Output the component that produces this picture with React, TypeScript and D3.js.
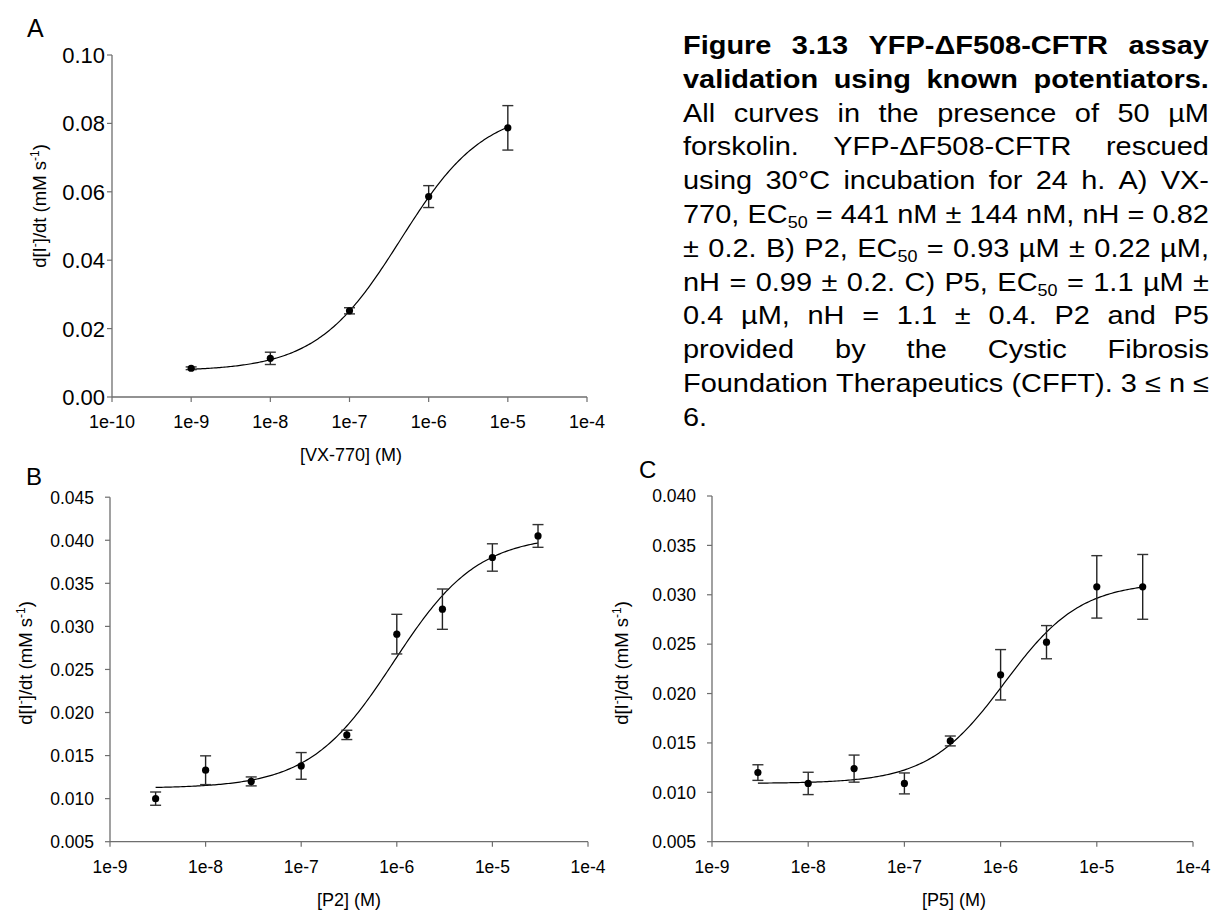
import React, { useEffect, useRef } from 'react';
import * as d3 from 'd3';

const FONT = '"Liberation Sans", Arial, Helvetica, sans-serif';
const W = 1212;
const H = 911;

// ---------- Data ----------
// Panel A: VX-770
const concA = [1e-9, 1e-8, 1e-7, 1e-6, 1e-5];
const meanA = [0.0084, 0.0113, 0.0252, 0.0586, 0.0787];
const semA = [0.0004, 0.0018, 0.0009, 0.0032, 0.0065];
const fitA = { bottom: 0.0076, top: 0.0844, ec50: 4.41e-7, nH: 0.82 };

// Panel B: P2
const concB = [3e-9, 1e-8, 3e-8, 1e-7, 3e-7, 1e-6, 3e-6, 1e-5, 3e-5];
const meanB = [0.0100, 0.0133, 0.0120, 0.0138, 0.0174, 0.0291, 0.0320, 0.0380, 0.0405];
const semB = [0.00077, 0.00167, 0.00052, 0.00155, 0.00054, 0.0023, 0.00234, 0.00159, 0.00132];
const fitB = { bottom: 0.0112, top: 0.0406, ec50: 9.3e-7, nH: 0.99 };

// Panel C: P5
const concC = [3e-9, 1e-8, 3e-8, 1e-7, 3e-7, 1e-6, 3e-6, 1e-5, 3e-5];
const meanC = [0.0120, 0.0109, 0.0124, 0.0109, 0.0152, 0.0219, 0.0252, 0.0308, 0.0308];
const semC = [0.00079, 0.00113, 0.00137, 0.00106, 0.0005, 0.00255, 0.00168, 0.00316, 0.00328];
const fitC = { bottom: 0.0109, top: 0.0313, ec50: 1.1e-6, nH: 1.1 };

// Ticks
const xTicksA = [1e-10, 1e-9, 1e-8, 1e-7, 1e-6, 1e-5, 1e-4];
const xTickLabelsA = ['1e-10', '1e-9', '1e-8', '1e-7', '1e-6', '1e-5', '1e-4'];
const xTicksBC = [1e-9, 1e-8, 1e-7, 1e-6, 1e-5, 1e-4];
const xTickLabelsBC = ['1e-9', '1e-8', '1e-7', '1e-6', '1e-5', '1e-4'];
const yTicksA = [0, 0.02, 0.04, 0.06, 0.08, 0.1];
const yTickLabelsA = ['0.00', '0.02', '0.04', '0.06', '0.08', '0.10'];
const yTicksB = [0.005, 0.01, 0.015, 0.02, 0.025, 0.03, 0.035, 0.04, 0.045];
const yTickLabelsB = ['0.005', '0.010', '0.015', '0.020', '0.025', '0.030', '0.035', '0.040', '0.045'];
const yTicksC = [0.005, 0.01, 0.015, 0.02, 0.025, 0.03, 0.035, 0.04];
const yTickLabelsC = ['0.005', '0.010', '0.015', '0.020', '0.025', '0.030', '0.035', '0.040'];

const captionLines = [
  'Figure 3.13 YFP-ΔF508-CFTR assay',
  'validation using known potentiators.',
  'All curves in the presence of 50 µM',
  'forskolin. YFP-ΔF508-CFTR rescued',
  'using 30°C incubation for 24 h. A) VX-',
  '770, EC_50 = 441 nM ± 144 nM, nH = 0.82',
  '± 0.2. B) P2, EC_50 = 0.93 µM ± 0.22 µM,',
  'nH = 0.99 ± 0.2. C) P5, EC_50 = 1.1 µM ±',
  '0.4 µM, nH = 1.1 ± 0.4. P2 and P5',
  'provided by the Cystic Fibrosis',
  'Foundation Therapeutics (CFFT). 3 ≤ n ≤',
  '6.',
];
const boldLineCount = 2;

type Fit = { bottom: number; top: number; ec50: number; nH: number };
const hill = (c: number, p: Fit) => p.bottom + (p.top - p.bottom) / (1 + Math.pow(p.ec50 / c, p.nH));

type PanelCfg = {
  label: string; labelX: number; labelY: number; labelFs: number;
  x0: number; x1: number; yTop: number; yBot: number;
  xDomain: [number, number]; yDomain: [number, number];
  xTicks: number[]; xTickLabels: string[]; xTickFs: number; xTickBaseline: number;
  yTicks: number[]; yTickLabels: string[]; yTickFs: number; yLabelGap: number;
  xTitle: string; xTitleX: number; xTitleBaseline: number; xTitleFs: number;
  yTitleBaseX: number; yTitleCY: number; yTitleFs: number;
  conc: number[]; mean: number[]; sem: number[]; fit: Fit;
};

const panels: PanelCfg[] = [
  {
    label: 'A', labelX: 27, labelY: 37, labelFs: 25,
    x0: 112, x1: 587, yTop: 55, yBot: 397,
    xDomain: [1e-10, 1e-4], yDomain: [0, 0.1],
    xTicks: xTicksA, xTickLabels: xTickLabelsA, xTickFs: 18, xTickBaseline: 428,
    yTicks: yTicksA, yTickLabels: yTickLabelsA, yTickFs: 22, yLabelGap: 7,
    xTitle: '[VX-770] (M)', xTitleX: 351, xTitleBaseline: 461, xTitleFs: 18,
    yTitleBaseX: 46, yTitleCY: 206, yTitleFs: 18.5,
    conc: concA, mean: meanA, sem: semA, fit: fitA,
  },
  {
    label: 'B', labelX: 26, labelY: 485, labelFs: 24,
    x0: 110, x1: 588, yTop: 497.2, yBot: 841.7,
    xDomain: [1e-9, 1e-4], yDomain: [0.005, 0.045],
    xTicks: xTicksBC, xTickLabels: xTickLabelsBC, xTickFs: 17.5, xTickBaseline: 873,
    yTicks: yTicksB, yTickLabels: yTickLabelsB, yTickFs: 17.5, yLabelGap: 16,
    xTitle: '[P2] (M)', xTitleX: 349, xTitleBaseline: 906, xTitleFs: 18,
    yTitleBaseX: 32, yTitleCY: 663, yTitleFs: 18.5,
    conc: concB, mean: meanB, sem: semB, fit: fitB,
  },
  {
    label: 'C', labelX: 639, labelY: 478, labelFs: 24,
    x0: 712, x1: 1193, yTop: 496, yBot: 841.7,
    xDomain: [1e-9, 1e-4], yDomain: [0.005, 0.04],
    xTicks: xTicksBC, xTickLabels: xTickLabelsBC, xTickFs: 17.5, xTickBaseline: 873,
    yTicks: yTicksC, yTickLabels: yTickLabelsC, yTickFs: 17.5, yLabelGap: 16,
    xTitle: '[P5] (M)', xTitleX: 954, xTitleBaseline: 906, xTitleFs: 18,
    yTitleBaseX: 628, yTitleCY: 663, yTitleFs: 18.5,
    conc: concC, mean: meanC, sem: semC, fit: fitC,
  },
];

const AXIS = '#6e6e6e';

function drawPanel(root: d3.Selection<SVGGElement, unknown, null, undefined>, cfg: PanelCfg) {
  const g = root.append('g');
  const x = d3.scaleLog().domain(cfg.xDomain).range([cfg.x0, cfg.x1]);
  const y = d3.scaleLinear().domain(cfg.yDomain).range([cfg.yBot, cfg.yTop]);

  g.append('text').attr('x', cfg.labelX).attr('y', cfg.labelY)
    .attr('font-size', cfg.labelFs).attr('font-family', FONT).text(cfg.label);

  // axes
  g.append('line').attr('x1', cfg.x0).attr('x2', cfg.x0).attr('y1', y(cfg.yDomain[1])).attr('y2', cfg.yBot)
    .attr('stroke', AXIS).attr('stroke-width', 1.3);
  g.append('line').attr('x1', cfg.x0).attr('x2', x(cfg.xDomain[1])).attr('y1', cfg.yBot).attr('y2', cfg.yBot)
    .attr('stroke', AXIS).attr('stroke-width', 1.3);

  cfg.yTicks.forEach((t, i) => {
    g.append('line').attr('x1', cfg.x0 - 5).attr('x2', cfg.x0).attr('y1', y(t)).attr('y2', y(t))
      .attr('stroke', AXIS).attr('stroke-width', 1.2);
    g.append('text').attr('x', cfg.x0 - cfg.yLabelGap).attr('y', y(t) + cfg.yTickFs * 0.36)
      .attr('text-anchor', 'end').attr('font-size', cfg.yTickFs).attr('font-family', FONT)
      .text(cfg.yTickLabels[i]);
  });
  cfg.xTicks.forEach((t, i) => {
    g.append('line').attr('x1', x(t)).attr('x2', x(t)).attr('y1', cfg.yBot).attr('y2', cfg.yBot + 5)
      .attr('stroke', AXIS).attr('stroke-width', 1.2);
    g.append('text').attr('x', x(t)).attr('y', cfg.xTickBaseline)
      .attr('text-anchor', 'middle').attr('font-size', cfg.xTickFs).attr('font-family', FONT)
      .text(cfg.xTickLabels[i]);
  });

  g.append('text').attr('x', cfg.xTitleX).attr('y', cfg.xTitleBaseline)
    .attr('text-anchor', 'middle').attr('font-size', cfg.xTitleFs).attr('font-family', FONT)
    .text(cfg.xTitle);

  const yt = g.append('text')
    .attr('transform', `translate(${cfg.yTitleBaseX},${cfg.yTitleCY}) rotate(-90)`)
    .attr('text-anchor', 'middle').attr('font-size', cfg.yTitleFs).attr('font-family', FONT);
  yt.append('tspan').text('d[I');
  yt.append('tspan').attr('font-size', cfg.yTitleFs * 0.65).attr('dy', -cfg.yTitleFs * 0.38).text('-');
  yt.append('tspan').attr('dy', cfg.yTitleFs * 0.38).text(']/dt (mM s');
  yt.append('tspan').attr('font-size', cfg.yTitleFs * 0.65).attr('dy', -cfg.yTitleFs * 0.38).text('-1');
  yt.append('tspan').attr('dy', cfg.yTitleFs * 0.38).text(')');

  // fitted curve
  const lo = Math.log10(cfg.conc[0]);
  const hi = Math.log10(cfg.conc[cfg.conc.length - 1]);
  const xs = d3.range(0, 201).map((i) => Math.pow(10, lo + ((hi - lo) * i) / 200));
  const line = d3.line<number>().x((c) => x(c)).y((c) => y(hill(c, cfg.fit)));
  g.append('path').attr('d', line(xs) || '').attr('fill', 'none')
    .attr('stroke', '#000').attr('stroke-width', 1.2);

  // error bars
  cfg.conc.forEach((c, i) => {
    const cx = x(c);
    const yHi = y(cfg.mean[i] + cfg.sem[i]);
    const yLo = y(cfg.mean[i] - cfg.sem[i]);
    g.append('line').attr('x1', cx).attr('x2', cx).attr('y1', yHi).attr('y2', yLo)
      .attr('stroke', '#222').attr('stroke-width', 1.4);
    [yHi, yLo].forEach((yy) => {
      g.append('line').attr('x1', cx - 5.5).attr('x2', cx + 5.5).attr('y1', yy).attr('y2', yy)
        .attr('stroke', '#333').attr('stroke-width', 1.4);
    });
  });
  cfg.conc.forEach((c, i) => {
    g.append('circle').attr('cx', x(c)).attr('cy', y(cfg.mean[i])).attr('r', 3.6).attr('fill', '#000');
  });
}

function drawCaption(root: d3.Selection<SVGGElement, unknown, null, undefined>) {
  const L = 683;
  const R = 1209;
  const fs = 25.5;
  const baseline0 = 54;
  const lineH = 33.8;
  const g = root.append('g').attr('font-family', FONT).attr('font-size', fs);

  const makeWord = (parent: any, word: string, bold: boolean) => {
    const t = parent.append('text').attr('font-weight', bold ? 'bold' : 'normal');
    if (word.includes('_')) {
      const [main, sub] = word.split('_');
      t.append('tspan').text(main);
      t.append('tspan').attr('font-size', fs * 0.62).attr('dy', fs * 0.2).text(sub);
    } else {
      t.text(word);
    }
    return t;
  };

  // measure a space
  const m1 = g.append('text').text('n n');
  const m2 = g.append('text').text('nn');
  const spaceW = (m1.node() as SVGTextElement).getComputedTextLength() - (m2.node() as SVGTextElement).getComputedTextLength();
  m1.remove(); m2.remove();

  const lines = captionLines.map((ln, li) => {
    const bold = li < boldLineCount;
    const words = ln.split(' ');
    const nodes = words.map((w) => makeWord(g, w, bold));
    const widths = nodes.map((n) => (n.node() as SVGTextElement).getComputedTextLength());
    return { nodes, widths, li };
  });

  // horizontal stretch so that the naturally-spaced line fills the column
  const ref = lines[10];
  const natural = ref.widths.reduce((a, b) => a + b, 0) + spaceW * (ref.widths.length - 1);
  const sx = Math.max(1, Math.min(1.15, (R - L) / natural));

  lines.forEach(({ nodes, widths, li }) => {
    const yb = baseline0 + li * lineH;
    const total = widths.reduce((a, b) => a + b, 0) * sx;
    const last = li === lines.length - 1;
    const gap = last || nodes.length < 2 ? spaceW * sx : (R - L - total) / (nodes.length - 1);
    let cx = L;
    nodes.forEach((n, k) => {
      n.attr('transform', `translate(${cx},${yb}) scale(${sx},1)`);
      cx += widths[k] * sx + gap;
    });
  });
}

export default function App() {
  const ref = useRef<SVGSVGElement | null>(null);
  useEffect(() => {
    if (!ref.current) return;
    const svg = d3.select(ref.current);
    svg.selectAll('*').remove();
    const root = svg.append('g');
    root.append('rect').attr('width', W).attr('height', H).attr('fill', '#fff');
    panels.forEach((p) => drawPanel(root as any, p));
    drawCaption(root as any);
  }, []);
  return (
    <div style={{ position: 'absolute', left: 0, top: 0, width: W, height: H, overflow: 'hidden', background: '#fff' }}>
      <svg ref={ref} width={W} height={H} style={{ display: 'block' }} />
    </div>
  );
}
